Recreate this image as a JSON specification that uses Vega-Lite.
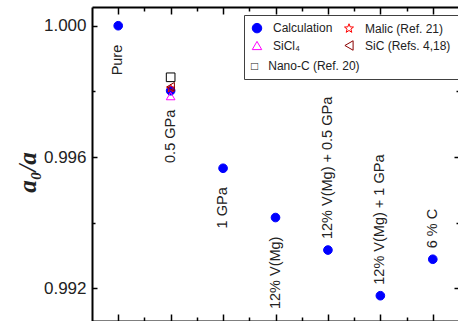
{
  "$schema": "https://vega.github.io/schema/vega-lite/v6.json",
  "width": 367,
  "height": 314,
  "autosize": "none",
  "padding": {"left": 92, "top": 7, "right": 0, "bottom": 0},
  "background": "white",
  "config": {
    "view": {"stroke": null},
    "font": "Liberation Sans",
    "axis": {
      "grid": false,
      "domainColor": "#000000",
      "domainWidth": 2,
      "tickColor": "#000000",
      "tickWidth": 1.5,
      "labelFont": "Liberation Sans",
      "labelFontSize": 17,
      "labelColor": "#222222"
    },
    "legend": {
      "orient": "none",
      "direction": "horizontal",
      "columns": 2,
      "columnPadding": 9,
      "rowPadding": 3.5,
      "padding": 7,
      "strokeColor": "#404040",
      "fillColor": "white",
      "cornerRadius": 0,
      "labelFont": "Liberation Sans",
      "labelFontSize": 12,
      "labelColor": "#222222",
      "labelOffset": 10,
      "symbolSize": 90,
      "symbolStrokeWidth": 1,
      "titleOrient": "bottom",
      "titleAnchor": "start",
      "titleFont": "Liberation Sans",
      "titleFontSize": 12,
      "titleFontWeight": "normal",
      "titleColor": "#222222",
      "titlePadding": 9
    }
  },
  "data": {
    "values": [
      {"series": "Calculation", "pos": 1, "ratio": 1.0, "label": "Pure"},
      {"series": "Calculation", "pos": 2, "ratio": 0.99802, "label": "0.5 GPa"},
      {"series": "Calculation", "pos": 3, "ratio": 0.99566, "label": "1 GPa"},
      {"series": "Calculation", "pos": 4, "ratio": 0.99416, "label": "12% V(Mg)"},
      {"series": "Calculation", "pos": 5, "ratio": 0.99317, "label": "12% V(Mg) + 0.5 GPa"},
      {"series": "Calculation", "pos": 6, "ratio": 0.99178, "label": "12% V(Mg) + 1 GPa"},
      {"series": "Calculation", "pos": 7, "ratio": 0.99289, "label": "6 % C"},
      {"series": "SiCl₄", "pos": 2, "ratio": 0.99786},
      {"series": "Malic (Ref. 21)", "pos": 2, "ratio": 0.99809},
      {"series": "SiC (Refs. 4,18)", "pos": 2, "ratio": 0.99814},
      {"series": "Nano-C (Ref. 20)", "pos": 2, "ratio": 0.99843}
    ]
  },
  "layer": [
    {
      "mark": {"type": "point", "size": 75, "strokeWidth": 1, "opacity": 1},
      "encoding": {
        "x": {
          "field": "pos", "type": "quantitative",
          "scale": {"domain": [0.5, 7.5], "nice": false, "zero": false},
          "axis": {
            "orient": "bottom", "title": null, "labels": false,
            "values": [1, 1.5, 2, 2.5, 3, 3.5, 4, 4.5, 5, 5.5, 6, 6.5, 7],
            "tickSize": {"condition": {"test": "datum.value % 1 == 0", "value": -7}, "value": -4}
          }
        },
        "y": {
          "field": "ratio", "type": "quantitative",
          "scale": {"domain": [0.99101, 1.00057], "nice": false, "zero": false},
          "axis": {
            "orient": "left",
            "values": [0.992, 0.994, 0.996, 0.998, 1.0],
            "labelExpr": "(abs(datum.value - 0.994) < 1e-6 || abs(datum.value - 0.998) < 1e-6) ? '' : format(datum.value, '.3f')",
            "tickSize": {"condition": {"test": "abs(datum.value - 0.994) < 1e-6 || abs(datum.value - 0.998) < 1e-6", "value": -3}, "value": -5},
            "labelPadding": 11,
            "title": "a₀/a",
            "titleFont": "Liberation Serif",
            "titleFontStyle": "italic",
            "titleFontWeight": "bold",
            "titleFontSize": 25,
            "titleColor": "#222222",
            "titleAngle": 270,
            "titleAlign": "center",
            "titleBaseline": "middle",
            "titleX": -65,
            "titleY": 165
          }
        },
        "shape": {
          "field": "series", "type": "nominal",
          "scale": {
            "domain": ["Calculation", "Malic (Ref. 21)", "SiCl₄", "SiC (Refs. 4,18)", "Nano-C (Ref. 20)"],
            "range": ["circle", "M0,-1L0.247,-0.34L0.951,-0.309L0.399,0.13L0.588,0.809L0,0.42L-0.588,0.809L-0.399,0.13L-0.951,-0.309L-0.247,-0.34Z", "triangle-up", "triangle-left", "square"]
          },
          "legend": {
            "title": "□\u00a0\u00a0\u00a0Nano-C (Ref. 20)",
            "legendX": 152, "legendY": 8,
            "values": ["Calculation", "Malic (Ref. 21)", "SiCl₄", "SiC (Refs. 4,18)"]
          }
        },
        "fill": {
          "field": "series", "type": "nominal",
          "scale": {
            "domain": ["Calculation", "Malic (Ref. 21)", "SiCl₄", "SiC (Refs. 4,18)", "Nano-C (Ref. 20)"],
            "range": ["#0000ff", "transparent", "transparent", "transparent", "transparent"]
          },
          "legend": {
            "title": "□\u00a0\u00a0\u00a0Nano-C (Ref. 20)",
            "legendX": 152, "legendY": 8,
            "values": ["Calculation", "Malic (Ref. 21)", "SiCl₄", "SiC (Refs. 4,18)"]
          }
        },
        "stroke": {
          "field": "series", "type": "nominal",
          "scale": {
            "domain": ["Calculation", "Malic (Ref. 21)", "SiCl₄", "SiC (Refs. 4,18)", "Nano-C (Ref. 20)"],
            "range": ["#0000ff", "#ff0000", "#ff00ff", "#8b0000", "#000000"]
          },
          "legend": {
            "title": "□\u00a0\u00a0\u00a0Nano-C (Ref. 20)",
            "legendX": 152, "legendY": 8,
            "values": ["Calculation", "Malic (Ref. 21)", "SiCl₄", "SiC (Refs. 4,18)"]
          }
        }
      }
    },
    {
      "transform": [{"filter": "datum.series === 'Calculation' && datum.pos <= 4"}],
      "mark": {"type": "text", "angle": 270, "align": "right", "baseline": "middle", "dx": -19, "font": "Liberation Sans", "fontSize": 14.5, "color": "#222222"},
      "encoding": {
        "x": {
          "field": "pos", "type": "quantitative",
          "axis": {
            "orient": "top", "title": null, "labels": false,
            "values": [1, 1.5, 2, 2.5, 3, 3.5, 4, 4.5, 5, 5.5, 6, 6.5, 7],
            "tickSize": {"condition": {"test": "datum.value % 1 == 0", "value": -7}, "value": -4}
          }
        },
        "y": {
          "field": "ratio", "type": "quantitative",
          "axis": {
            "orient": "right", "title": null, "labels": false,
            "values": [0.992, 0.994, 0.996, 0.998, 1.0],
            "tickSize": {"condition": {"test": "abs(datum.value - 0.994) < 1e-6 || abs(datum.value - 0.998) < 1e-6", "value": -3}, "value": -5}
          }
        },
        "text": {"field": "label"}
      }
    },
    {
      "transform": [{"filter": "datum.series === 'Calculation' && datum.pos > 4"}],
      "mark": {"type": "text", "angle": 270, "align": "left", "baseline": "middle", "dx": 11, "font": "Liberation Sans", "fontSize": 14.5, "color": "#222222"},
      "encoding": {
        "x": {"field": "pos", "type": "quantitative", "axis": null},
        "y": {"field": "ratio", "type": "quantitative", "axis": null},
        "text": {"field": "label"}
      }
    }
  ],
  "resolve": {"axis": {"x": "independent", "y": "independent"}}
}
